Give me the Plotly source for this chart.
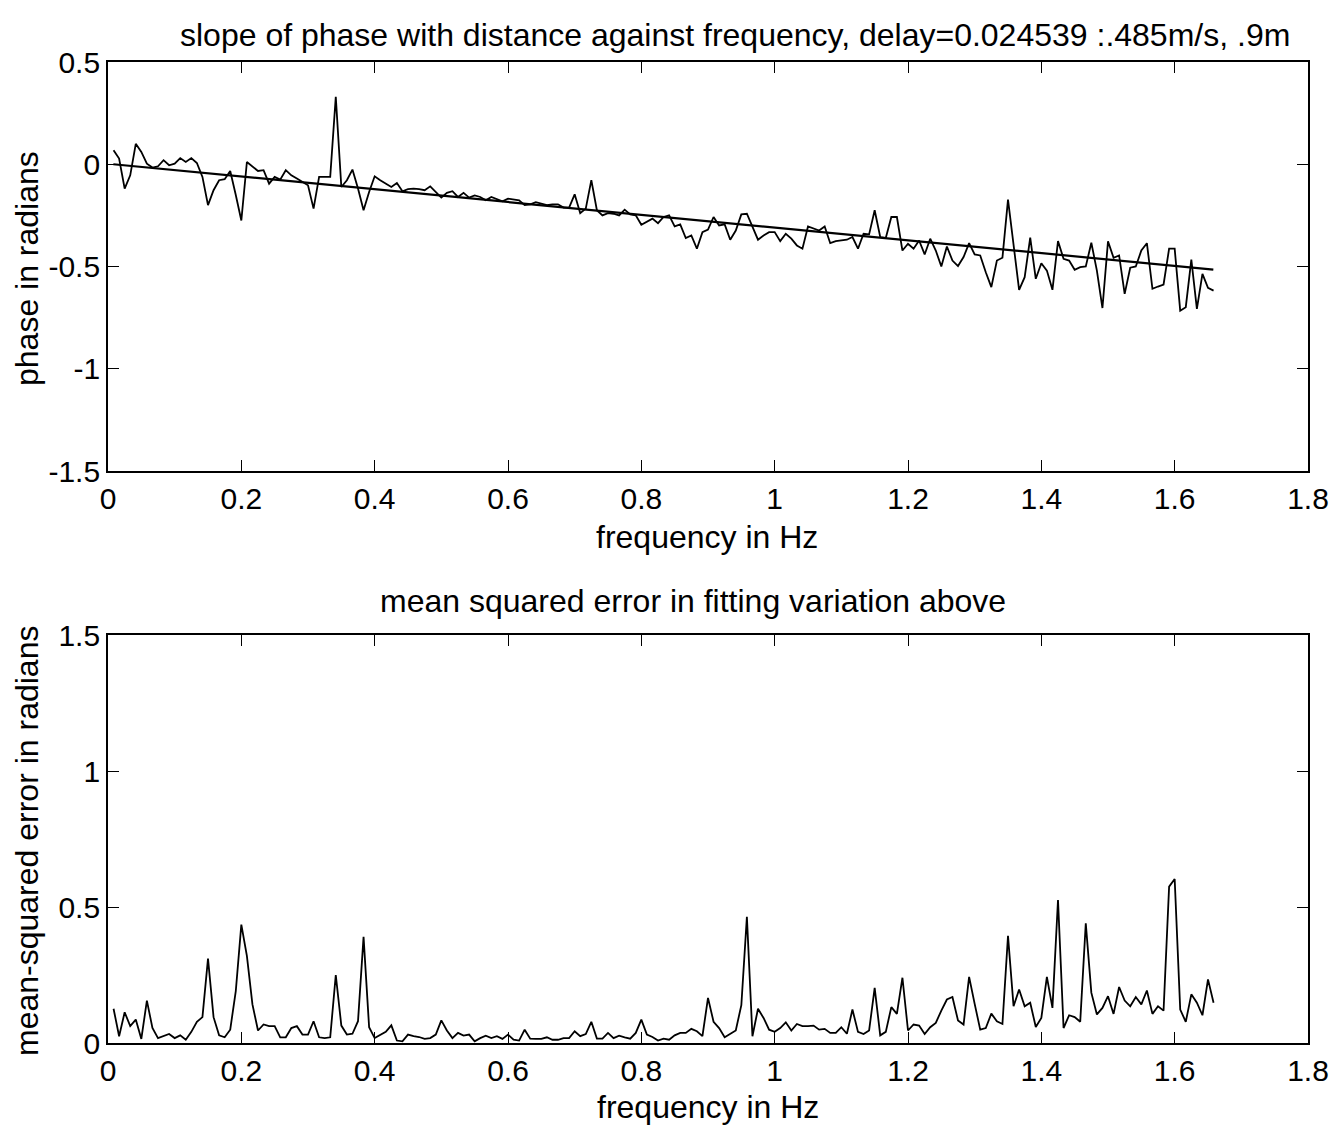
import numpy as np
import plotly.graph_objects as go

# frequency grid (Hz): 199 samples spaced 1/120 Hz
df = 1.0 / 120.0
freq = np.arange(1, 200) * df

phase = [
    0.069, 0.028, -0.119, -0.054, 0.10, 0.06, 0.003, -0.016, -0.01, 0.02,
    -0.005, 0.003, 0.03, 0.011, 0.03, 0.006, -0.062, -0.20, -0.127, -0.078,
    -0.073, -0.033, -0.15, -0.275, 0.011, -0.01, -0.033, -0.029, -0.095, -0.062,
    -0.075, -0.029, -0.054, -0.07, -0.087, -0.103, -0.217, -0.062, -0.062, -0.062,
    0.33, -0.111, -0.078, -0.026, -0.119, -0.225, -0.136, -0.059, -0.078, -0.095,
    -0.111, -0.092,
    -0.132, -0.122, -0.119, -0.122, -0.127, -0.108, -0.136, -0.163, -0.14, -0.132,
    -0.16, -0.14, -0.163, -0.152, -0.16, -0.176, -0.16, -0.172, -0.181, -0.168,
    -0.172, -0.176, -0.2, -0.196, -0.185, -0.193, -0.2, -0.196, -0.196, -0.212,
    -0.212, -0.147, -0.239, -0.217, -0.078, -0.225, -0.25, -0.239, -0.242, -0.25,
    -0.222, -0.245, -0.25, -0.296, -0.279, -0.266, -0.288, -0.258, -0.25, -0.304,
    -0.294, -0.361, -0.348,
    -0.413, -0.332, -0.32, -0.258, -0.299, -0.294, -0.369, -0.324, -0.245, -0.242,
    -0.307, -0.369, -0.348, -0.332, -0.332, -0.376, -0.34, -0.364, -0.397, -0.413,
    -0.304, -0.315, -0.324, -0.304, -0.386, -0.376, -0.373, -0.369, -0.356, -0.413,
    -0.34, -0.343, -0.225, -0.356, -0.36, -0.258, -0.258, -0.422, -0.389, -0.413,
    -0.373, -0.441, -0.364, -0.422, -0.5, -0.402, -0.471, -0.498, -0.454, -0.386,
    -0.441, -0.446,
    -0.528, -0.601, -0.471, -0.457, -0.173, -0.40, -0.614, -0.552, -0.359, -0.56,
    -0.484, -0.52, -0.614, -0.376, -0.462, -0.471, -0.516, -0.503, -0.5, -0.384,
    -0.52, -0.703, -0.377, -0.457, -0.446, -0.634, -0.506, -0.5, -0.422, -0.386,
    -0.609, -0.598, -0.588, -0.413, -0.413, -0.716, -0.699, -0.466, -0.707, -0.536,
    -0.604, -0.618,
]

# straight-line fit (end points)
fit_x = [0.008, 1.658]
fit_y = [0.0, -0.515]

mse = [
    0.126, 0.025, 0.113, 0.062, 0.086, 0.015, 0.156, 0.055, 0.018, 0.025,
    0.033, 0.018, 0.028, 0.012, 0.041, 0.078, 0.095, 0.31, 0.095, 0.028,
    0.021, 0.049, 0.191, 0.435, 0.32, 0.142, 0.046, 0.068, 0.062, 0.062,
    0.021, 0.021, 0.055, 0.062, 0.031, 0.031, 0.08, 0.021, 0.018, 0.021,
    0.25, 0.064, 0.031, 0.034, 0.08, 0.39, 0.058, 0.018, 0.031, 0.041,
    0.065, 0.009,
    0.006, 0.031, 0.025, 0.022, 0.015, 0.018, 0.031, 0.083, 0.046, 0.018,
    0.037, 0.027, 0.031, 0.006, 0.018, 0.027, 0.018, 0.025, 0.015, 0.031,
    0.012, 0.009, 0.049, 0.016, 0.015, 0.015, 0.021, 0.012, 0.012, 0.018,
    0.018, 0.043, 0.025, 0.033, 0.078, 0.016, 0.016, 0.037, 0.018, 0.027,
    0.021, 0.016, 0.037, 0.086, 0.031, 0.022, 0.009, 0.016, 0.012, 0.028,
    0.037, 0.037,
    0.052, 0.043, 0.025, 0.166, 0.078, 0.055, 0.021, 0.033, 0.046, 0.139,
    0.464, 0.025, 0.126, 0.092, 0.049, 0.041, 0.055, 0.076, 0.046, 0.07,
    0.062, 0.062, 0.064, 0.049, 0.052, 0.037, 0.037, 0.058, 0.034, 0.123,
    0.041, 0.033, 0.046, 0.203, 0.028, 0.041, 0.132, 0.107, 0.24, 0.046,
    0.068, 0.064, 0.033, 0.058, 0.074, 0.119, 0.16, 0.169, 0.083, 0.068,
    0.243, 0.144, 0.049,
    0.055, 0.108, 0.08, 0.07, 0.394, 0.135, 0.197, 0.135, 0.148, 0.059,
    0.092, 0.243, 0.129, 0.526, 0.055, 0.102, 0.095, 0.078, 0.44, 0.185,
    0.105, 0.129, 0.172, 0.107, 0.206, 0.156, 0.135, 0.169, 0.142, 0.193,
    0.107, 0.135, 0.119, 0.575, 0.603, 0.123, 0.078, 0.179, 0.148, 0.102,
    0.234, 0.148,
]

x_ticks = [0, 0.2, 0.4, 0.6, 0.8, 1, 1.2, 1.4, 1.6, 1.8]
x_labels = ["0", "0.2", "0.4", "0.6", "0.8", "1", "1.2", "1.4", "1.6", "1.8"]
y1_ticks = [-1.5, -1, -0.5, 0, 0.5]
y1_labels = ["-1.5", "-1", "-0.5", "0", "0.5"]
y2_ticks = [0, 0.5, 1, 1.5]
y2_labels = ["0", "0.5", "1", "1.5"]

FONT = "Liberation Sans, Arial, Helvetica, sans-serif"
W, H = 1344, 1128
L, R, T, B = 108, 36, 62, 85
plot_h = H - T - B
top_bot_px = 471
bot_top_px = 635


def py(px):
    return (H - B - px) / plot_h


def pxx(px):
    return (px - L) / (W - L - R)


fig = go.Figure()
line_style = dict(color="black", width=1.8)
fig.add_trace(go.Scatter(x=freq, y=phase, mode="lines", line=line_style,
                         xaxis="x", yaxis="y", showlegend=False))
fig.add_trace(go.Scatter(x=fit_x, y=fit_y, mode="lines",
                         line=dict(color="black", width=2.2),
                         xaxis="x", yaxis="y", showlegend=False))
fig.add_trace(go.Scatter(x=freq, y=mse, mode="lines", line=line_style,
                         xaxis="x2", yaxis="y2", showlegend=False))

axis_common = dict(showgrid=False, zeroline=False, showline=True,
                   linecolor="black", linewidth=1.8, mirror="ticks",
                   ticks="inside", ticklen=11, tickwidth=1.3, tickcolor="black",
                   tickfont=dict(family=FONT, size=30, color="black"))

fig.update_layout(
    width=W, height=H,
    margin=dict(l=L, r=R, t=T, b=B),
    paper_bgcolor="white", plot_bgcolor="white",
    xaxis=dict(domain=[0, 1], range=[0, 1.8], tickvals=x_ticks, ticktext=x_labels,
               anchor="y", **axis_common),
    yaxis=dict(domain=[py(top_bot_px), 1], range=[-1.5, 0.5], tickvals=y1_ticks,
               ticktext=y1_labels, anchor="x", **axis_common),
    xaxis2=dict(domain=[0, 1], range=[0, 1.8], tickvals=x_ticks, ticktext=x_labels,
                anchor="y2", **axis_common),
    yaxis2=dict(domain=[0, py(bot_top_px)], range=[0, 1.5], tickvals=y2_ticks,
                ticktext=y2_labels, anchor="x2", **axis_common),
)

ann_font = dict(family=FONT, size=32, color="black")
ann = [
    ("slope of phase with distance against frequency, delay=0.024539 :.485m/s, .9m",
     735, 35, 0),
    ("frequency in Hz", 707, 537, 0),
    ("mean squared error in fitting variation above", 693, 601, 0),
    ("frequency in Hz", 708, 1107, 0),
    ("phase in radians", 27, 269, -90),
    ("mean-squared error in radians", 27, 841, -90),
]
for text, x, y, rot in ann:
    fig.add_annotation(text=text, xref="paper", yref="paper", x=pxx(x), y=py(y),
                       xanchor="center", yanchor="middle", showarrow=False,
                       textangle=rot, font=ann_font)

fig.write_html("out.html")
